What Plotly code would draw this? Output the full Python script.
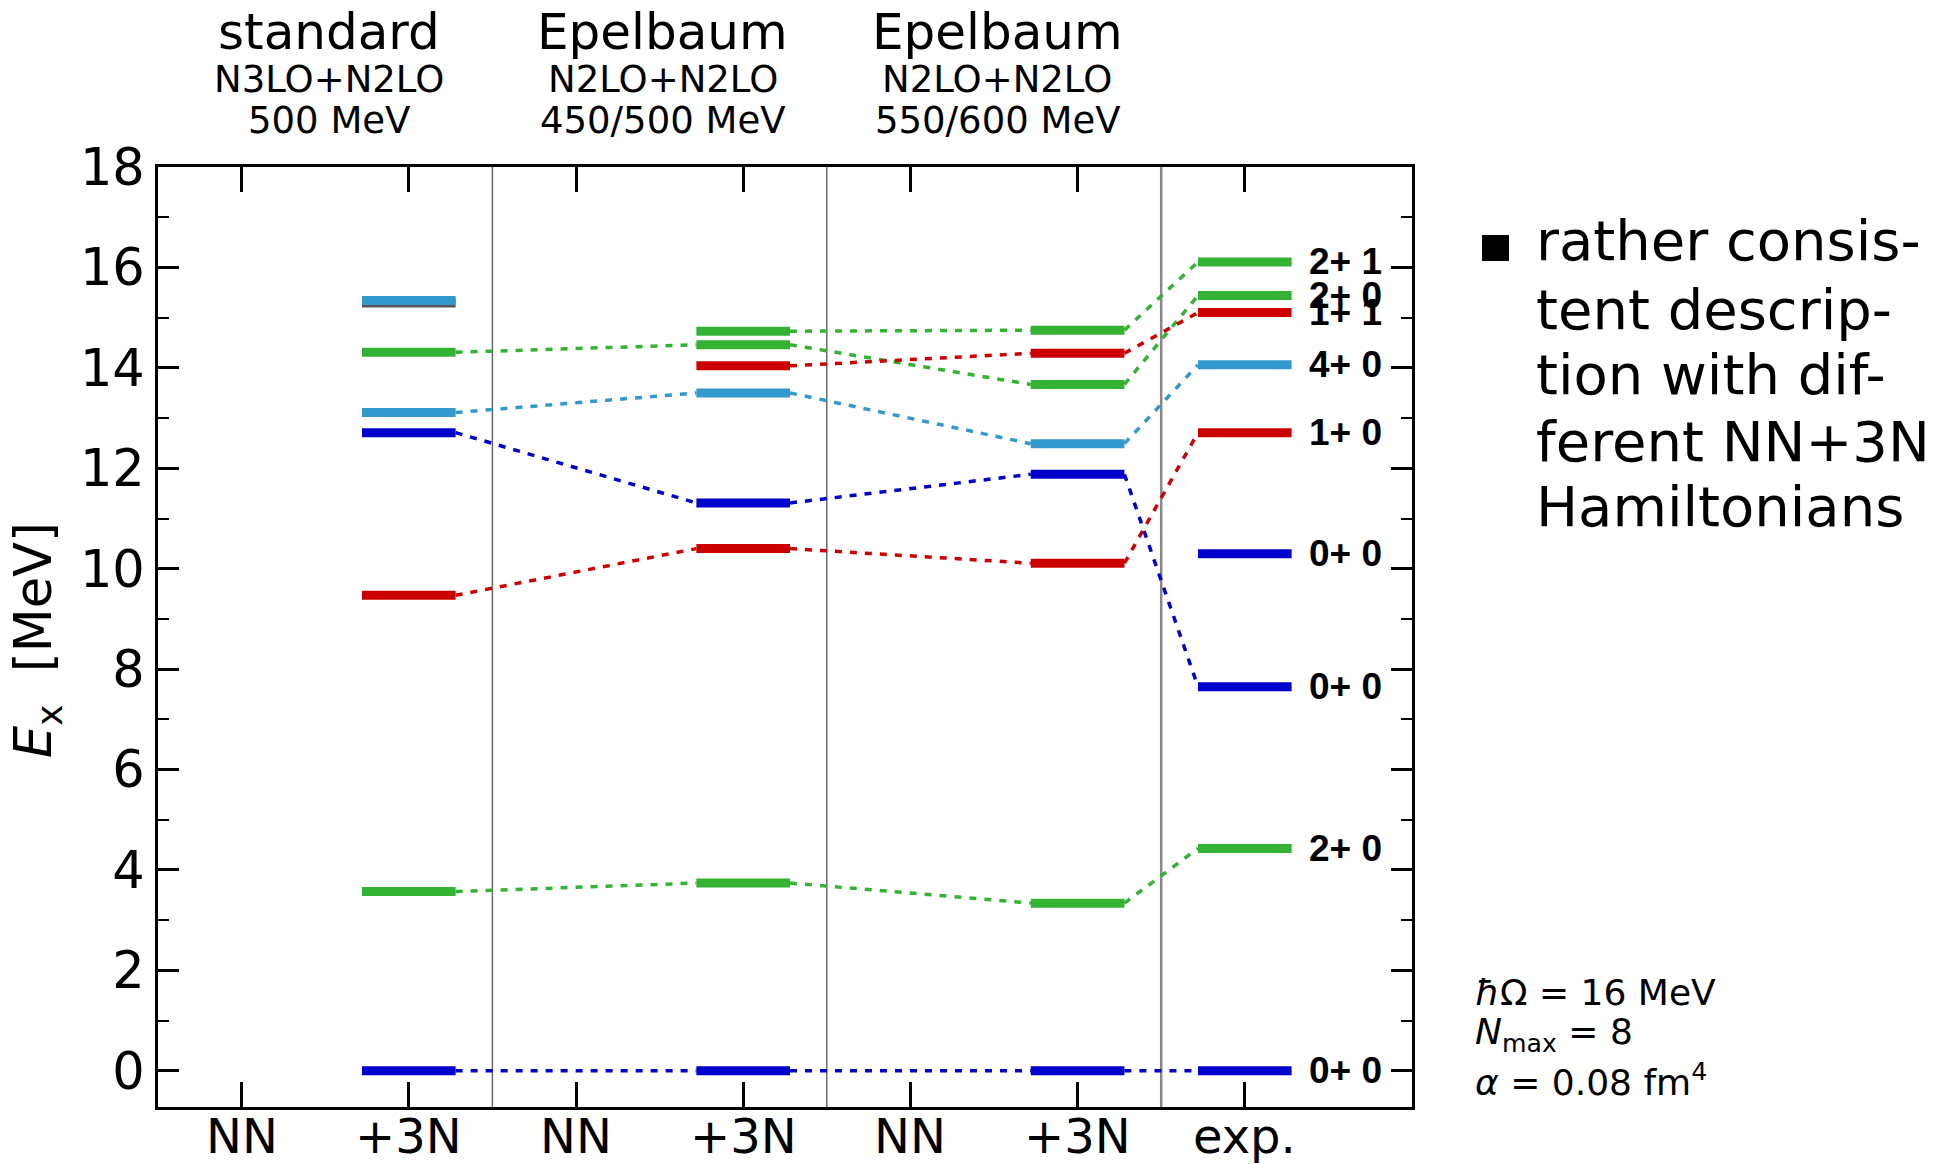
import plotly.graph_objects as go

# ---------------- data ----------------
tick_labels = ["NN", "+3N", "NN", "+3N", "NN", "+3N", "exp."]
tick_pos = [0, 1, 2, 3, 4, 5, 6]
col_x = [1, 3, 5, 6]          # columns that carry levels: standard +3N, Epelbaum 450/500 +3N, Epelbaum 550/600 +3N, exp.

# excitation energies [MeV] per state, for the four columns (None = not shown)
E_gs      = [0.00, 0.00, 0.00, 0.00]
E_2p0_a   = [3.57, 3.74, 3.34, 4.43]
E_1p0     = [9.47, 10.40, 10.11, 12.71]
E_0p0_b   = [12.71, 11.31, 11.88, 7.65]
E_4p0     = [13.11, 13.50, 12.49, 14.06]
E_2p0_b   = [14.31, 14.46, 13.67, 15.44]
E_2p1     = [None, 14.73, 14.75, 16.11]
E_1p1     = [None, 14.04, 14.29, 15.10]
E_0p0_c   = [None, None, None, 10.30]
E_other   = [15.29, None, None, None]
E_4p_x    = [15.34, None, None, None]

exp_labels = ["0+ 0", "2+ 0", "1+ 0", "0+ 0", "4+ 0", "2+ 0", "2+ 1", "1+ 1", "0+ 0"]
exp_values = [0.00, 4.43, 12.71, 7.65, 14.06, 15.44, 16.11, 15.10, 10.30]

col_titles = ["standard", "Epelbaum", "Epelbaum"]
col_sub1 = ["N3LO+N2LO", "N2LO+N2LO", "N2LO+N2LO"]
col_sub2 = ["500 MeV", "450/500 MeV", "550/600 MeV"]
col_title_x = [0.5, 2.5, 4.5]
separators_x = [1.5, 3.5, 5.5]

side_lines = ["rather consis-", "tent descrip-", "tion with dif-", "ferent NN+3N", "Hamiltonians"]
param_lines = ["<i>ħ</i>Ω = 16 MeV", "<i>N</i><sub>max</sub> = 8", "<i>α</i> = 0.08 fm<sup>4</sup>"]

# ---------------- style ----------------
GREEN = "#33b233"
RED = "#cc0000"
LBLUE = "#3399cc"
BLUE = "#0000cc"
GRAY = "#555555"

tracks = [
    (E_other, GRAY),
    (E_4p_x, LBLUE),
    (E_gs, BLUE),
    (E_2p0_a, GREEN),
    (E_1p0, RED),
    (E_0p0_b, BLUE),
    (E_4p0, LBLUE),
    (E_2p0_b, GREEN),
    (E_2p1, GREEN),
    (E_1p1, RED),
    (E_0p0_c, BLUE),
]
HW = 0.28
FONT = "DejaVu Sans"
PLOT_TOP, PLOT_BOT = 167, 1107   # pixel rows of the plotting area


def py2paper(py):
    return (PLOT_BOT - py) / (PLOT_BOT - PLOT_TOP)


fig = go.Figure()

# dashed connectors
for vals, col in tracks:
    xs, ys = [], []
    pts = [(col_x[i], v) for i, v in enumerate(vals) if v is not None]
    for (xa, ya), (xb, yb) in zip(pts[:-1], pts[1:]):
        xs += [xa + HW, xb - HW, None]
        ys += [ya, yb, None]
    if xs:
        fig.add_trace(go.Scatter(x=xs, y=ys, mode="lines",
                                 line=dict(color=col, width=3.5, dash="7px,8px"),
                                 hoverinfo="skip", showlegend=False))

# level bars
for vals, col in tracks:
    xs, ys = [], []
    for i, v in enumerate(vals):
        if v is None:
            continue
        xs += [col_x[i] - HW, col_x[i] + HW, None]
        ys += [v, v, None]
    fig.add_trace(go.Scatter(x=xs, y=ys, mode="lines",
                             line=dict(color=col, width=9),
                             hoverinfo="skip", showlegend=False))

# separators
for sx in separators_x:
    fig.add_shape(type="line", xref="x", yref="paper", x0=sx, x1=sx, y0=0, y1=1,
                  line=dict(color="#6a6a6a" if sx < 5 else "#888888", width=1.5 if sx < 5 else 2.5),
                  layer="below")

annotations = []
# x tick labels (placed close under the axis, as in the original)
for lab, tx in zip(tick_labels, tick_pos):
    annotations.append(dict(x=tx, y=py2paper(1106), xref="x", yref="paper", text=lab,
                            showarrow=False, xanchor="center", yanchor="top",
                            font=dict(family=FONT, size=48)))

# experimental labels
for lab, v in zip(exp_labels, exp_values):
    annotations.append(dict(x=col_x[3] + 0.37, y=v, xref="x", yref="y", text=lab,
                            showarrow=False, xanchor="left", yanchor="middle",
                            font=dict(family="Liberation Sans", size=37, color="black", weight="bold")))

# column titles
for t, s1, s2, tx in zip(col_titles, col_sub1, col_sub2, col_title_x):
    annotations.append(dict(x=tx + 0.02, y=py2paper(32), xref="x", yref="paper", text=t, showarrow=False,
                            xanchor="center", yanchor="middle", font=dict(family=FONT, size=50)))
    annotations.append(dict(x=tx + 0.02, y=py2paper(79), xref="x", yref="paper", text=s1, showarrow=False,
                            xanchor="center", yanchor="middle", font=dict(family=FONT, size=37)))
    annotations.append(dict(x=tx + 0.02, y=py2paper(121), xref="x", yref="paper", text=s2, showarrow=False,
                            xanchor="center", yanchor="middle", font=dict(family=FONT, size=37)))

# y-axis title
annotations.append(dict(x=(37 - 158) / 1254, y=py2paper(640), xref="paper", yref="paper",
                        text="<i>E</i><sub>x</sub>  [MeV]", showarrow=False, textangle=-90,
                        xanchor="center", yanchor="middle", font=dict(family=FONT, size=51)))

# side text
side_y = [241, 309, 374, 441, 506]
for line, py in zip(side_lines, side_y):
    annotations.append(dict(x=(1534 - 158) / 1254, y=py2paper(py), xref="paper", yref="paper",
                            text=line, showarrow=False, xanchor="left", yanchor="middle",
                            font=dict(family=FONT, size=56)))

# parameters
param_y = [992, 1034, 1080]
for line, py in zip(param_lines, param_y):
    annotations.append(dict(x=(1473 - 158) / 1254, y=py2paper(py), xref="paper", yref="paper",
                            text=line, showarrow=False, xanchor="left", yanchor="middle",
                            font=dict(family=FONT, size=36)))

# bullet square
fig.add_shape(type="rect", xref="paper", yref="paper",
              x0=(1482 - 158) / 1254, x1=(1509 - 158) / 1254,
              y0=py2paper(261), y1=py2paper(235),
              fillcolor="black", line=dict(width=0))

fig.update_layout(
    width=1937, height=1164,
    margin=dict(l=158, r=525, t=PLOT_TOP, b=1164 - PLOT_BOT, autoexpand=False),
    paper_bgcolor="white", plot_bgcolor="white",
    font=dict(family=FONT, color="black"),
    annotations=annotations,
    showlegend=False,
)
fig.update_xaxes(range=[-0.5, 7.0], tickvals=tick_pos, showticklabels=False,
                 ticks="inside", ticklen=25, tickwidth=2.5, tickcolor="black",
                 showline=True, linewidth=3, linecolor="black", mirror="ticks",
                 showgrid=False, zeroline=False, automargin=False)
fig.update_yaxes(range=[-0.72, 18], tickvals=list(range(0, 19, 2)),
                 ticks="inside", ticklen=21, tickwidth=2.5, tickcolor="black",
                 minor=dict(tickvals=list(range(1, 18, 2)), ticks="inside", ticklen=11,
                            tickwidth=2, tickcolor="black", showgrid=False),
                 showline=True, linewidth=3, linecolor="black", mirror="ticks",
                 showgrid=False, zeroline=False, automargin=False,
                 tickfont=dict(family=FONT, size=51))

fig.write_html("out.html")
